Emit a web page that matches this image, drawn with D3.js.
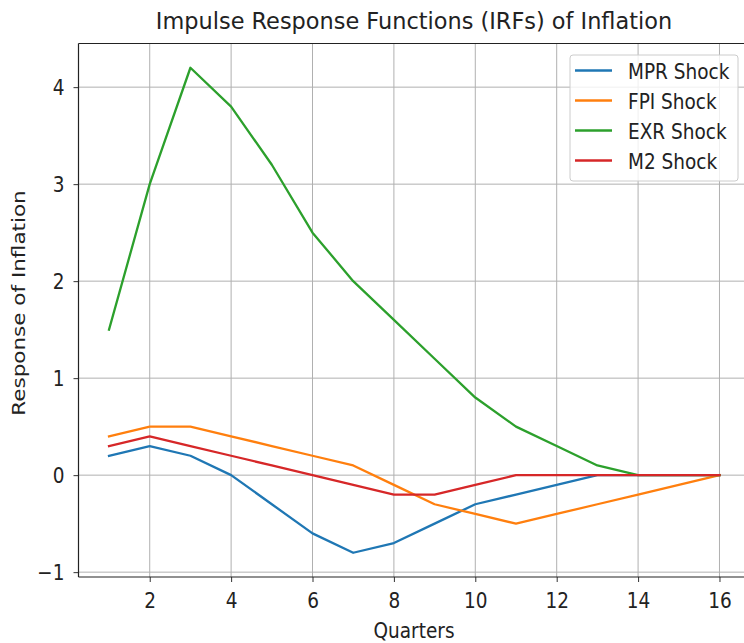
<!DOCTYPE html>
<html><head><meta charset="utf-8">
<script src="https://cdn.jsdelivr.net/npm/d3@7"></script>
<style>
html,body{margin:0;padding:0;background:#fff;overflow:hidden;}
svg{display:block;font-family:"DejaVu Sans",sans-serif;}
</style></head>
<body>
<svg id="chart" width="744" height="643"></svg>
<script>
const quarters = [1,2,3,4,5,6,7,8,9,10,11,12,13,14,15,16];
const mprShock = [0.2,0.3,0.2,0.0,-0.3,-0.6,-0.8,-0.7,-0.5,-0.3,-0.2,-0.1,0,0,0,0];
const fpiShock = [0.4,0.5,0.5,0.4,0.3,0.2,0.1,-0.1,-0.3,-0.4,-0.5,-0.4,-0.3,-0.2,-0.1,0];
const exrShock = [1.5,3.0,4.2,3.8,3.2,2.5,2.0,1.6,1.2,0.8,0.5,0.3,0.1,0,0,0];
const m2Shock  = [0.3,0.4,0.3,0.2,0.1,0,-0.1,-0.2,-0.2,-0.1,0,0,0,0,0,0];
const seriesNames = ["MPR Shock","FPI Shock","EXR Shock","M2 Shock"];
const seriesColors = ["#1f77b4","#ff7f0e","#2ca02c","#d62728"];
const xTicks = [2,4,6,8,10,12,14,16];
const yTicks = [-1,0,1,2,3,4];

const series = [mprShock,fpiShock,exrShock,m2Shock];
const svg = d3.select("#chart");
const L = 78.5, R = 750, T = 43.5, B = 577;
const x = d3.scaleLinear().domain([0.25,16.75]).range([L,R]);
const y = d3.scaleLinear().domain([-1.05,4.45]).range([B,T]);
const FS = 21.5, SX = 0.86; // label font height and horizontal squeeze

// grid
svg.append("g").selectAll("line").data(xTicks).join("line")
  .attr("x1",d=>x(d)).attr("x2",d=>x(d)).attr("y1",T).attr("y2",B)
  .attr("stroke","#b0b0b0").attr("stroke-width",1);
svg.append("g").selectAll("line").data(yTicks).join("line")
  .attr("x1",L).attr("x2",R).attr("y1",d=>y(d)).attr("y2",d=>y(d))
  .attr("stroke","#b0b0b0").attr("stroke-width",1);

// lines
const line = d3.line().x((d,i)=>x(quarters[i])).y(d=>y(d));
series.forEach((s,k)=>{
  svg.append("path").datum(s).attr("d",line).attr("fill","none")
    .attr("stroke",seriesColors[k]).attr("stroke-width",2.3)
    .attr("stroke-linejoin","round").attr("stroke-linecap","square");
});

// axes
const xAxis = svg.append("g").attr("transform",`translate(0,${B})`)
  .call(d3.axisBottom(x).tickValues(xTicks).tickSize(5).tickPadding(5).tickFormat(d3.format("d")));
const yAxis = svg.append("g").attr("transform",`translate(${L},0)`)
  .call(d3.axisLeft(y).tickValues(yTicks).tickSize(5).tickPadding(5).tickFormat(d=>d<0?"\u2212"+Math.abs(d):d));
[xAxis,yAxis].forEach(a=>{
  a.select(".domain").remove();
  a.selectAll("line").attr("stroke","#333").attr("stroke-width",1);
  a.selectAll("text").attr("font-size",FS).attr("fill","#222").attr("font-family","DejaVu Sans");
});
xAxis.selectAll("text").attr("y",31).attr("dy",0).attr("transform",`scale(${SX},1)`);
yAxis.selectAll("text").attr("x",-14/SX).attr("transform",`scale(${SX},1)`);
// spines
svg.append("line").attr("x1",L).attr("x2",L).attr("y1",T).attr("y2",B).attr("stroke","#222").attr("stroke-width",1.2);
svg.append("line").attr("x1",L).attr("x2",R).attr("y1",B).attr("y2",B).attr("stroke","#222").attr("stroke-width",1.2);
svg.append("line").attr("x1",L).attr("x2",R).attr("y1",T).attr("y2",T).attr("stroke","#222").attr("stroke-width",1.2);

// labels
svg.append("text").attr("transform","translate(414,29) scale(0.975,1)").attr("text-anchor","middle")
  .attr("font-size",23).attr("fill","#222").text("Impulse Response Functions (IRFs) of Inflation");
svg.append("text").attr("transform",`translate(414,638) scale(${SX},1)`).attr("text-anchor","middle")
  .attr("font-size",FS).attr("fill","#222").text("Quarters");
svg.append("text").attr("transform",`translate(25,303) scale(${SX},1) rotate(-90)`).attr("text-anchor","middle")
  .attr("font-size",FS).attr("fill","#222").text("Response of Inflation");

// legend
const lg = svg.append("g");
lg.append("rect").attr("x",570).attr("y",55).attr("width",168).attr("height",126).attr("rx",3)
  .attr("fill","#fff").attr("fill-opacity",0.8).attr("stroke","#ccc").attr("stroke-width",1);
seriesNames.forEach((n,i)=>{
  const yy = 70.5 + i*30;
  lg.append("line").attr("x1",575).attr("x2",612).attr("y1",yy).attr("y2",yy)
    .attr("stroke",seriesColors[i]).attr("stroke-width",2.3);
  lg.append("text").attr("transform",`translate(628,${yy+8}) scale(${SX},1)`).attr("font-size",FS).attr("fill","#222").text(n);
});
</script>
</body></html>
